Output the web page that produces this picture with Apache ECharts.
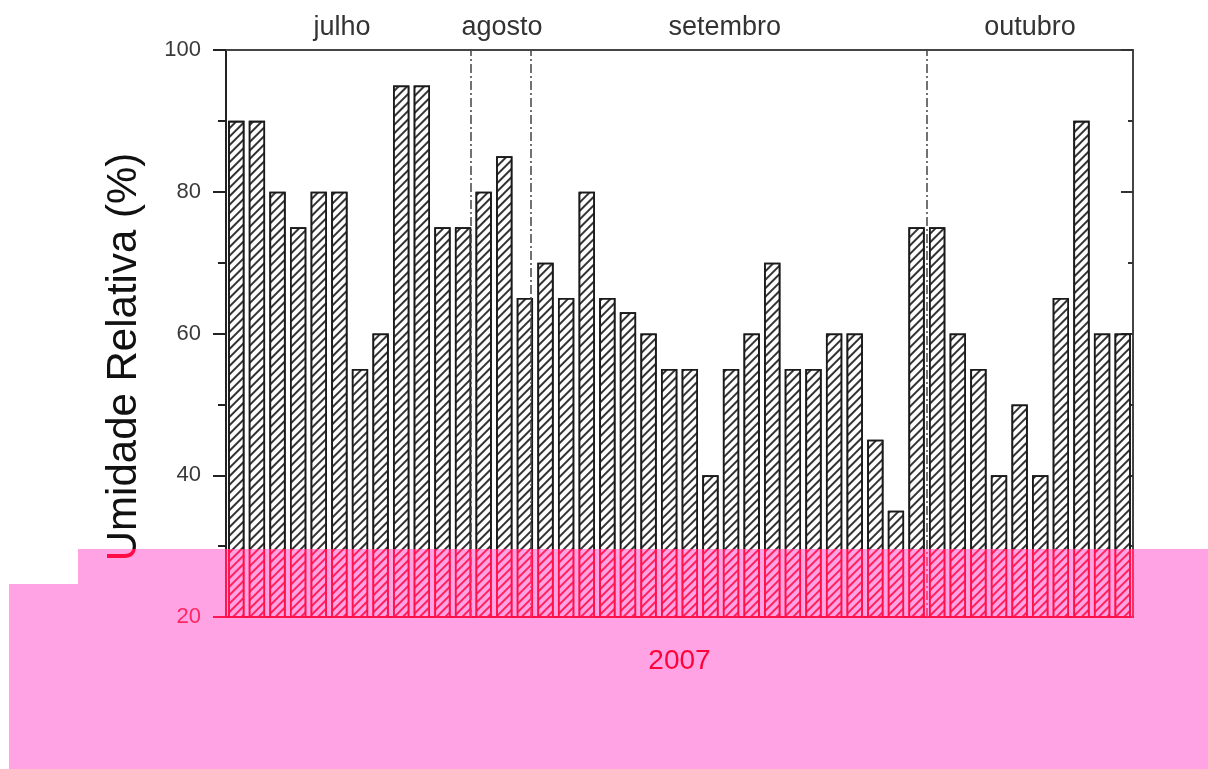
<!DOCTYPE html>
<html>
<head>
<meta charset="utf-8">
<script src="https://cdn.jsdelivr.net/npm/echarts@6/dist/echarts.min.js"></script>
<style>
html,body{margin:0;padding:0;background:#fff;}
#c{width:1208px;height:769px;}
</style>
</head>
<body>
<div id="c"></div>
<script>
// ---- data ----
const days = Array.from({length:44}, (_, i) => String(i + 1));
const humidity = [90,90,80,75,80,80,55,60,95,95,75,75,80,85,65,70,65,80,65,63,60,55,55,40,55,60,70,55,55,60,60,45,35,75,75,60,55,40,50,40,65,90,60,60];
const yTicks = [20, 40, 60, 80, 100];
const months = ['julho', 'agosto', 'setembro', 'outubro'];
const monthLabelPos = [5.63, 13.39, 24.2, 39.0];     // in day units
const monthDividers = [11.87, 14.8, 34.0];           // in day units
const yearLabel = '2007';
const yTitle = 'Umidade Relativa (%)';

const FONT = '"Liberation Sans", Arial, sans-serif';
const chart = echarts.init(document.getElementById('c'), null, {renderer: 'canvas'});

const overlayPts = [[78,549],[1208,549],[1208,769],[9,769],[9,584],[78,584]];

const option = {
  backgroundColor: '#ffffff',
  animation: false,
  grid: {left: 226, right: 75, top: 50, bottom: 152, containLabel: false},
  xAxis: [{
    type: 'category',
    data: days,
    position: 'bottom',
    axisLine: {show: true, lineStyle: {color: '#111', width: 2}},
    axisTick: {show: false},
    axisLabel: {show: false},
    splitLine: {show: false},
    name: yearLabel,
    nameLocation: 'middle',
    nameGap: 30,
    nameTextStyle: {fontSize: 28, color: '#000', fontFamily: FONT}
  }, {
    type: 'value',
    min: 0, max: days.length,
    position: 'top',
    axisLine: {show: true, onZero: false, lineStyle: {color: '#444', width: 2}},
    axisTick: {show: false},
    axisLabel: {show: false},
    splitLine: {show: false}
  }],
  yAxis: [{
    type: 'value',
    min: yTicks[0], max: yTicks[yTicks.length - 1], interval: 20,
    position: 'left',
    axisLine: {show: true, onZero: false, lineStyle: {color: '#222', width: 2}},
    axisTick: {show: true, inside: false, length: 13, lineStyle: {color: '#222', width: 2}},
    minorTick: {show: true, splitNumber: 2, length: 8, lineStyle: {color: '#222', width: 2}},
    axisLabel: {show: true, margin: 25, fontSize: 22, color: '#3a3a3a', fontFamily: FONT},
    splitLine: {show: false}
  }, {
    type: 'value',
    min: yTicks[0], max: yTicks[yTicks.length - 1], interval: 20,
    position: 'right',
    axisLine: {show: true, onZero: false, lineStyle: {color: '#444', width: 2}},
    axisTick: {show: true, inside: true, length: 12, lineStyle: {color: '#333', width: 2}},
    minorTick: {show: true, splitNumber: 2, length: 5, lineStyle: {color: '#333', width: 2}},
    axisLabel: {show: false},
    splitLine: {show: false}
  }],
  series: [{
    type: 'bar',
    data: humidity,
    xAxisIndex: 0, yAxisIndex: 0,
    barWidth: '79%',
    itemStyle: {
      color: '#ffffff',
      borderColor: '#1a1a1a',
      borderWidth: 1.8,
      decal: {
        symbol: 'rect',
        symbolSize: 1,
        color: '#333',
        backgroundColor: '#ffffff',
        dashArrayX: [1, 0],
        dashArrayY: [1.3, 4],
        rotation: -Math.PI / 4
      }
    },
    z: 2
  }, {
    type: 'scatter',
    xAxisIndex: 1, yAxisIndex: 0,
    data: [],
    z: 5,
    markLine: {
      silent: true,
      symbol: 'none',
      label: {show: false},
      lineStyle: {color: '#444', width: 1.5, type: [9, 3, 2, 3]},
      data: monthDividers.map(v => ({xAxis: v}))
    }
  }]
};
chart.setOption(option);

const g = [{
  type: 'text', x: 124, y: 357, rotation: Math.PI / 2,
  style: {text: yTitle, font: '42px ' + FONT, fill: '#111', textAlign: 'center', textVerticalAlign: 'middle'},
  z: 10
}];
// month labels positioned via the top axis scale
months.forEach((m, i) => g.push({
  type: 'text',
  x: chart.convertToPixel({xAxisIndex: 1}, monthLabelPos[i]),
  y: 28,
  style: {text: m, font: '27px ' + FONT, fill: '#333', textAlign: 'center', textVerticalAlign: 'middle'},
  z: 10
}));
// highlight overlay (screen red, then multiply pink)
g.push({
  type: 'polygon', shape: {points: overlayPts},
  style: {fill: '#ff0040', blend: 'screen'}, z: 100, silent: true
});
g.push({
  type: 'polygon', shape: {points: overlayPts},
  style: {fill: '#ffa3e4', blend: 'multiply'}, z: 101, silent: true
});
chart.setOption({graphic: g});
</script>
</body>
</html>
